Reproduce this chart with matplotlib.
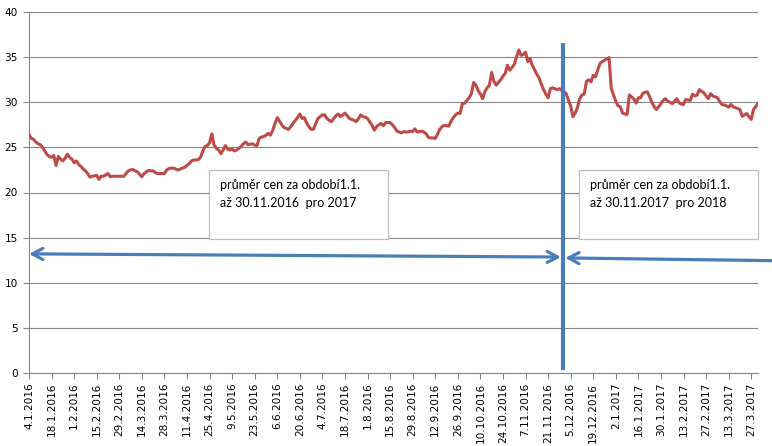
import matplotlib
matplotlib.use("Agg")
import matplotlib.pyplot as plt
from matplotlib.patches import Rectangle
import pandas as pd

# ---------------- data ----------------
start_date = "2016-01-04"
split_date = "2016-11-30"

prices = [
    26.4, 26.0, 25.9, 25.6, 25.4, 25.3, 25.0, 24.6, 24.2, 24.0,
    23.9, 24.1, 23.0, 24.0, 23.7, 23.5, 23.8, 24.25, 23.9, 23.7,
    23.3, 23.5, 23.1, 22.9, 22.6, 22.4, 22.1, 21.7, 21.8, 21.85,
    21.9, 21.45, 21.8, 21.8, 21.95, 22.1, 21.75, 21.8, 21.8, 21.8,
    21.8, 21.8, 21.8, 22.1, 22.4, 22.5, 22.55, 22.4, 22.3, 22.0,
    21.75, 22.1, 22.3, 22.45, 22.4, 22.4, 22.2, 22.1, 22.1, 22.1,
    22.1, 22.5, 22.65, 22.7, 22.7, 22.6, 22.5, 22.6, 22.7, 22.8,
    23.0, 23.2, 23.5, 23.6, 23.6, 23.65, 23.9, 24.6, 25.1, 25.2,
    25.5, 26.5, 25.25, 24.9, 24.7, 24.3, 24.7, 25.2, 24.8, 24.7,
    24.8, 24.6, 24.7, 24.9, 25.1, 25.4, 25.6, 25.3, 25.35, 25.4,
    25.25, 25.2, 26.0, 26.15, 26.2, 26.35, 26.55, 26.35, 26.9, 27.65,
    28.3, 27.9, 27.5, 27.2, 27.1, 27.0, 27.3, 27.65, 28.0, 28.3,
    28.7, 28.2, 28.3, 27.7, 27.3, 27.0, 27.0, 27.6, 28.2, 28.4,
    28.6, 28.6, 28.2, 28.0, 27.85, 28.2, 28.5, 28.7, 28.4, 28.6,
    28.8, 28.5, 28.2, 28.1, 28.0, 27.85, 28.2, 28.6, 28.4, 28.35,
    28.2, 27.8, 27.45, 26.9, 27.3, 27.5, 27.65, 27.4, 27.75, 27.75,
    27.75, 27.5, 27.2, 26.8, 26.7, 26.6, 26.75, 26.7, 26.7, 26.8,
    26.75, 27.05, 26.7, 26.75, 26.8, 26.7, 26.5, 26.1, 26.05, 26.05,
    26.0, 26.45, 27.0, 27.3, 27.45, 27.4, 27.35, 27.9, 28.3, 28.6,
    28.8, 28.75, 29.85, 29.9, 30.2, 30.5, 30.95, 32.2, 31.9, 31.3,
    30.9, 30.4, 31.2, 31.6, 31.9, 33.3, 32.3, 31.9, 32.2, 32.5,
    32.9, 33.2, 34.1, 33.55, 33.85, 34.2, 35.0, 35.8, 35.2, 35.3,
    35.55, 34.5, 34.85, 34.1, 33.6, 33.1, 32.7, 32.0, 31.4, 30.9,
    30.5, 31.5, 31.6, 31.5, 31.4, 31.5, 31.3, 31.2, 30.95, 30.2,
    29.6, 28.4, 28.8, 29.4, 30.4, 30.8, 30.9, 32.3, 32.5, 32.25,
    33.0, 32.8, 33.6, 34.3, 34.5, 34.65, 34.8, 34.95, 31.5, 30.8,
    30.1, 29.6, 29.5, 28.8, 28.7, 28.65, 30.8, 30.6, 30.35, 29.9,
    30.5, 30.5, 31.0, 31.1, 31.15, 30.6, 30.0, 29.5, 29.2, 29.5,
    29.85, 30.2, 30.4, 30.1, 30.0, 29.85, 30.1, 30.4, 29.95, 29.8,
    29.75, 30.3, 30.25, 30.2, 30.9, 30.7, 30.8, 31.4, 31.2, 31.05,
    30.7, 30.4, 30.95, 30.7, 30.6, 30.5, 30.1, 29.75, 29.7, 29.6,
    29.45, 29.75, 29.5, 29.4, 29.3, 29.2, 28.45, 28.6, 28.75, 28.4,
    28.1, 29.2, 29.5, 29.9,
]

tick_labels = [
    "4.1.2016", "18.1.2016", "1.2.2016", "15.2.2016", "29.2.2016",
    "14.3.2016", "28.3.2016", "11.4.2016", "25.4.2016", "9.5.2016",
    "23.5.2016", "6.6.2016", "20.6.2016", "4.7.2016", "18.7.2016",
    "1.8.2016", "15.8.2016", "29.8.2016", "12.9.2016", "26.9.2016",
    "10.10.2016", "24.10.2016", "7.11.2016", "21.11.2016", "5.12.2016",
    "19.12.2016", "2.1.2017", "16.1.2017", "30.1.2017", "13.2.2017",
    "27.2.2017", "13.3.2017", "27.3.2017",
]
tick_step = 10

box_texts = [
    ("průměr cen za období1.1.", "až 30.11.2016  pro 2017"),
    ("průměr cen za období1.1.", "až 30.11.2017  pro 2018"),
]

y_ticks = [0, 5, 10, 15, 20, 25, 30, 35, 40]

# ---------------- figure ----------------
RED = "#BE4B48"
BLUE = "#4A7EBB"
GRID = "#868686"

dates = pd.bdate_range(start_date, periods=len(prices))
x = list(range(len(prices)))
split_idx = dates.get_loc(pd.Timestamp(split_date))

fig = plt.figure(figsize=(7.72, 4.46), dpi=100)
ax = fig.add_axes([29 / 772, (446 - 373) / 446, 729 / 772, 361 / 446])

ax.plot(x, prices, color=RED, lw=2.2, solid_joinstyle="round", zorder=3)

ax.set_xlim(0, len(prices) - 1)
ax.set_ylim(0, 40)
ax.set_yticks(y_ticks)
ax.set_yticklabels([str(v) for v in y_ticks])
ax.set_xticks(list(range(0, tick_step * len(tick_labels), tick_step)))
ax.set_xticklabels(tick_labels, rotation=90, va="top", ha="center")

ax.yaxis.grid(True, color=GRID, lw=0.8)
ax.set_axisbelow(True)
for s in ["top", "right"]:
    ax.spines[s].set_visible(False)
for s in ["left", "bottom"]:
    ax.spines[s].set_color(GRID)
    ax.spines[s].set_linewidth(0.8)
ax.tick_params(axis="both", colors=GRID, length=4, width=0.8, labelcolor="black",
               labelsize=7.6)
ax.tick_params(axis="y", pad=4)
ax.tick_params(axis="x", pad=3)

# vertical split line
ax.plot([split_idx - 0.6, split_idx - 0.6], [0.3, 36.6], color=BLUE, lw=3.0,
        zorder=5, solid_capstyle="butt", clip_on=False)

# arrows
ax.annotate("", xy=(0, 13.2), xytext=(split_idx - 1.3, 12.85),
            arrowprops=dict(arrowstyle="<->,head_length=0.75,head_width=0.4",
                            color=BLUE, lw=2.3, shrinkA=0, shrinkB=0),
            annotation_clip=False, zorder=6)
ax.annotate("", xy=(split_idx + 0.6, 12.75), xytext=(1.0, 12.45),
            textcoords=("figure fraction", "data"),
            xycoords="data",
            arrowprops=dict(arrowstyle="->,head_length=0.75,head_width=0.4",
                            color=BLUE, lw=2.3, shrinkA=0, shrinkB=0),
            annotation_clip=False, zorder=6)

# text boxes (axes fraction)
box_left = [(209 - 29) / 729, (579 - 29) / 729]
bw = 179 / 729
by0 = (373 - 239) / 361
bh = 69 / 361
for bx, (l1, l2) in zip(box_left, box_texts):
    ax.add_patch(Rectangle((bx, by0), bw, bh, transform=ax.transAxes,
                           facecolor="white", edgecolor="#BFBFBF", lw=0.9,
                           zorder=7, clip_on=False))
    tx = bx + 11 / 729
    ax.text(tx, (373 - 189) / 361, l1, transform=ax.transAxes, va="baseline",
            ha="left", fontsize=9, family="Lato", color="black", zorder=8)
    ax.text(tx, (373 - 207.3) / 361, l2, transform=ax.transAxes, va="baseline",
            ha="left", fontsize=9, family="Lato", color="black", zorder=8)

fig.savefig("out.png", dpi=100)
